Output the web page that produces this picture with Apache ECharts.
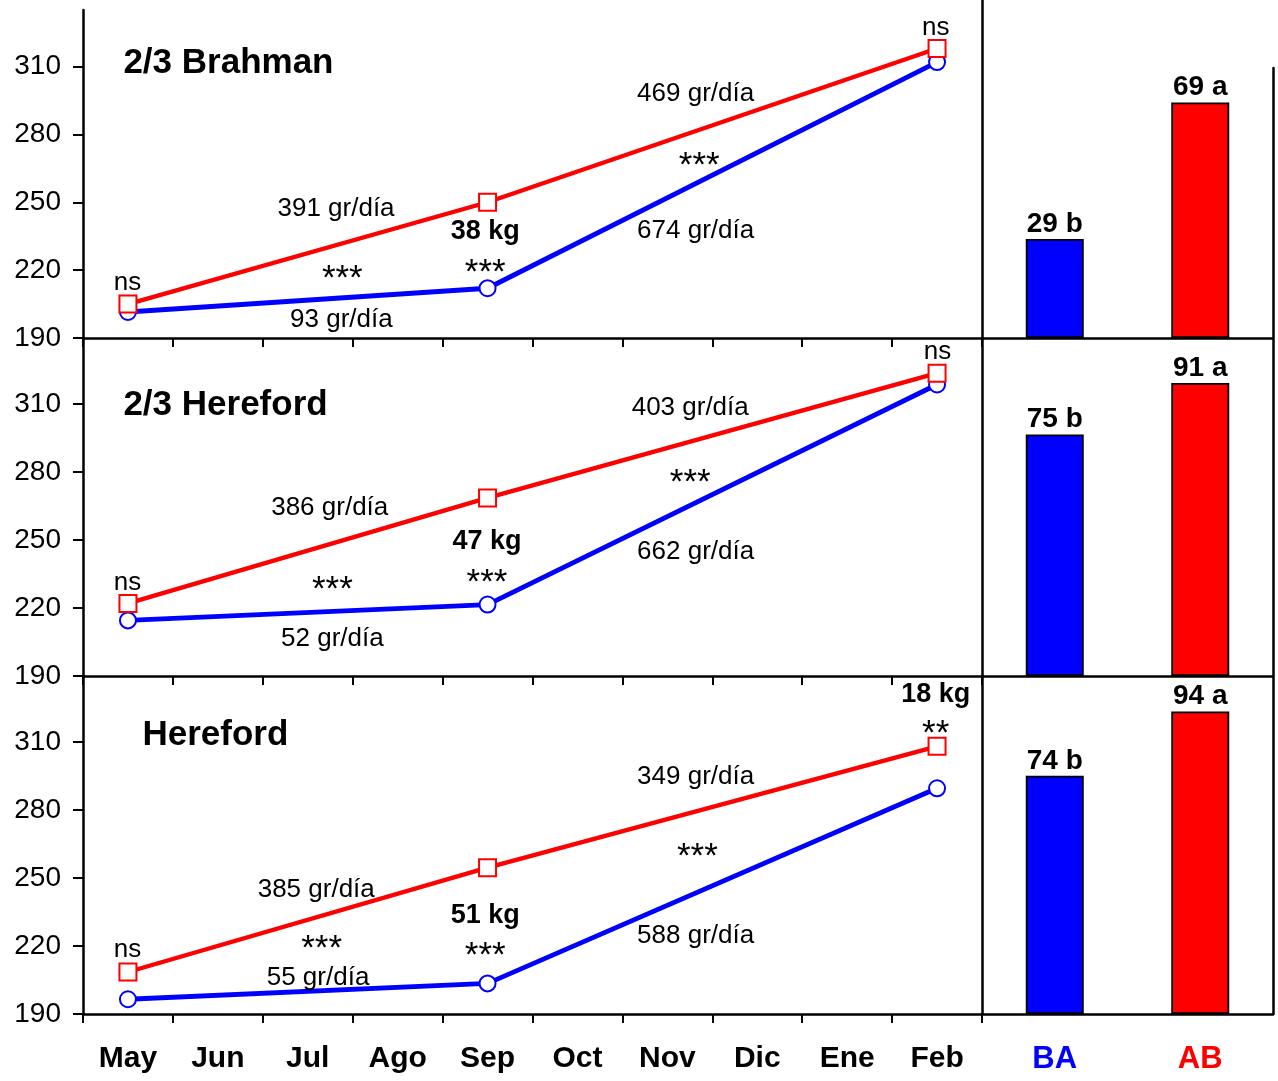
<!DOCTYPE html>
<html>
<head>
<meta charset="utf-8">
<script src="https://cdn.jsdelivr.net/npm/echarts@6/dist/echarts.min.js"></script>
<style>
  html, body { margin: 0; padding: 0; background: #ffffff; }
  #chart { width: 1278px; height: 1081px; }
</style>
</head>
<body>
<div id="chart"></div>
<script>
// Months of the trial (x axis) and the months when animals were weighed
const months = ['May', 'Jun', 'Jul', 'Ago', 'Sep', 'Oct', 'Nov', 'Dic', 'Ene', 'Feb'];
const weighMonths = ['May', 'Sep', 'Feb'];

// Panel titles (genotypes)
const panelTitles = ['2/3 Brahman', '2/3 Hereford', 'Hereford'];

// Live weight (kg) at each weighing, group BA (blue) and AB (red)
const pesoBA_brahman   = [201.5, 212.0, 312.0];
const pesoAB_brahman   = [205.0, 250.0, 318.0];
const pesoBA_hereford23 = [214.5, 221.5, 318.5];
const pesoAB_hereford23 = [222.0, 268.5, 323.5];
const pesoBA_hereford  = [196.5, 203.5, 289.5];
const pesoAB_hereford  = [208.5, 254.5, 308.0];

// Total gain (kg) by group and significance letters
const groups = ['BA', 'AB'];
const gananciaBrahman    = [29, 69];
const gananciaHereford23 = [75, 91];
const gananciaHereford   = [74, 94];
const letras = ['b', 'a'];

// Weight axis tick labels
const yTicks = [190, 220, 250, 280, 310];

// Text notes: [text, month position (0 = May), weight, kind]
const notasBrahman = [
  ['2/3 Brahman', -0.045, 311, 'title'],
  ['ns', 0, 214, 'n'],
  ['391 gr/día', 2.32, 246.7, 'n'],
  ['***', 2.39, 215.5, 's'],
  ['93 gr/día', 2.38, 198, 'n'],
  ['38 kg', 3.98, 237, 'b'],
  ['***', 3.98, 218.5, 's'],
  ['469 gr/día', 6.32, 297.6, 'n'],
  ['***', 6.36, 265.5, 's'],
  ['674 gr/día', 6.32, 237, 'n'],
  ['ns', 8.99, 327, 'n']
];
const notasHereford23 = [
  ['2/3 Hereford', -0.045, 309.3, 'title'],
  ['ns', 0, 231, 'n'],
  ['386 gr/día', 2.25, 263.7, 'n'],
  ['***', 2.28, 227.5, 's'],
  ['52 gr/día', 2.28, 206.3, 'n'],
  ['47 kg', 4.0, 249.2, 'b'],
  ['***', 4.0, 230.5, 's'],
  ['403 gr/día', 6.26, 307.8, 'n'],
  ['***', 6.26, 274.5, 's'],
  ['662 gr/día', 6.32, 244.3, 'n'],
  ['ns', 9.01, 332.5, 'n']
];
const notasHereford = [
  ['Hereford', 0.167, 312.6, 'title'],
  ['ns', 0, 218, 'n'],
  ['385 gr/día', 2.1, 244.7, 'n'],
  ['***', 2.16, 218.5, 's'],
  ['55 gr/día', 2.12, 205.9, 'n'],
  ['51 kg', 3.98, 233.3, 'b'],
  ['***', 3.98, 215, 's'],
  ['349 gr/día', 6.32, 294.5, 'n'],
  ['***', 6.34, 259, 's'],
  ['588 gr/día', 6.32, 224.4, 'n'],
  ['18 kg', 8.99, 330.7, 'b'],
  ['**', 8.99, 313, 's']
];

const panels = [
  { title: panelTitles[0], ba: pesoBA_brahman,    ab: pesoAB_brahman,    gain: gananciaBrahman,    notes: notasBrahman },
  { title: panelTitles[1], ba: pesoBA_hereford23, ab: pesoAB_hereford23, gain: gananciaHereford23, notes: notasHereford23 },
  { title: panelTitles[2], ba: pesoBA_hereford,   ab: pesoAB_hereford,   gain: gananciaHereford,   notes: notasHereford }
];

// ---- layout ----
const FONT = "'Liberation Sans', Arial, Helvetica, sans-serif";
const BLUE = '#0000ff';
const RED = '#ff0000';
const INK = '#000000';
const AXIS_W = 2.5;
const lineLayout = [
  { top: 10,  height: 328, yMax: 335 },
  { top: 338, height: 338, yMax: 339 },
  { top: 676, height: 338, yMax: 339 }
];
const barLayout = [
  { top: 0,   height: 338, yMax: 99 },
  { top: 338, height: 338, yMax: 105 },
  { top: 676, height: 338, yMax: 105 }
];
const PLOT_LEFT = 83, PLOT_W = 899, BAR_LEFT = 982, BAR_W = 291;

// text styles of the notes
const noteStyles = {
  title: { fontSize: 35, fontWeight: 'bold', align: 'left' },
  n: { fontSize: 26, fontWeight: 'normal', align: 'center' },
  b: { fontSize: 27, fontWeight: 'bold', align: 'center' },
  s: { fontSize: 35, fontWeight: 'normal', align: 'center' }
};

// place the weighings onto the monthly category axis
function toMonthly(values) {
  const out = months.map(() => null);
  weighMonths.forEach((m, i) => { out[months.indexOf(m)] = values[i]; });
  return out;
}

const grid = [], xAxis = [], yAxis = [], series = [];

panels.forEach((p, i) => {
  const L = lineLayout[i];
  grid.push({ left: PLOT_LEFT, top: L.top, width: PLOT_W, height: L.height });
});
panels.forEach((p, i) => {
  const B = barLayout[i];
  grid.push({ left: BAR_LEFT, top: B.top, width: BAR_W, height: B.height });
});
// right frame line of the bar column
grid.push({ left: 1273, top: 68, width: 1, height: 946 });

// line panels: month axes (xAxis 0..2, yAxis 0..2)
panels.forEach((p, i) => {
  xAxis.push({
    type: 'category', gridIndex: i, data: months, boundaryGap: true,
    axisLine: { show: true, lineStyle: { color: INK, width: AXIS_W } },
    axisTick: { show: true, interval: 0, length: 9, lineStyle: { color: INK, width: 2 } },
    axisLabel: {
      show: i === 2, interval: 0, margin: 30, color: INK,
      fontFamily: FONT, fontSize: 30, fontWeight: 'bold'
    },
    splitLine: { show: false }
  });
  yAxis.push({
    type: 'value', gridIndex: i, min: 190, max: lineLayout[i].yMax,
    axisLine: { show: true, onZero: false, lineStyle: { color: INK, width: AXIS_W } },
    axisTick: { show: true, customValues: yTicks, length: 10, lineStyle: { color: INK, width: 2 } },
    axisLabel: { show: true, customValues: yTicks, margin: 22, color: INK, fontFamily: FONT, fontSize: 28 },
    splitLine: { show: false }
  });
});
// bar panels (xAxis 3..5, yAxis 3..5)
panels.forEach((p, i) => {
  xAxis.push({
    type: 'category', gridIndex: 3 + i,
    data: [
      { value: groups[0], textStyle: { color: BLUE } },
      { value: groups[1], textStyle: { color: RED } }
    ],
    axisLine: { show: true, lineStyle: { color: INK, width: AXIS_W } },
    axisTick: { show: false },
    axisLabel: {
      show: i === 2, interval: 0, margin: 30,
      fontFamily: FONT, fontSize: 31, fontWeight: 'bold'
    },
    splitLine: { show: false }
  });
  yAxis.push({
    type: 'value', gridIndex: 3 + i, min: 0, max: barLayout[i].yMax, position: 'left',
    axisLine: { show: true, onZero: false, lineStyle: { color: INK, width: AXIS_W } },
    axisTick: { show: false }, axisLabel: { show: false }, splitLine: { show: false }
  });
});
// frame axes (xAxis 6, yAxis 6)
xAxis.push({ type: 'value', gridIndex: 6, show: false });
yAxis.push({
  type: 'value', gridIndex: 6, position: 'left',
  axisLine: { show: true, onZero: false, lineStyle: { color: INK, width: AXIS_W } },
  axisTick: { show: false }, axisLabel: { show: false }, splitLine: { show: false }
});
// overlay position axes for the text notes (xAxis 7..9)
const NOTE_AXIS0 = xAxis.length;
panels.forEach((p, i) => {
  xAxis.push({ type: 'value', gridIndex: i, min: -0.5, max: months.length - 0.5, show: false });
});

panels.forEach((p, i) => {
  // BA (blue) drawn first so AB markers sit on top
  series.push({
    type: 'line', xAxisIndex: i, yAxisIndex: i, data: toMonthly(p.ba),
    connectNulls: true, showSymbol: true, showAllSymbol: true,
    symbol: 'emptyCircle', symbolSize: 16,
    itemStyle: { color: BLUE, borderWidth: 2.4 },
    lineStyle: { color: BLUE, width: 4.8 }, z: 3, silent: true
  });
  series.push({
    type: 'line', xAxisIndex: i, yAxisIndex: i, data: toMonthly(p.ab),
    connectNulls: true, showSymbol: true, showAllSymbol: true,
    symbol: 'emptyRect', symbolSize: 17,
    itemStyle: { color: RED, borderWidth: 2.4 },
    lineStyle: { color: RED, width: 4.3 }, z: 4, silent: true
  });
  series.push({
    type: 'bar', xAxisIndex: 3 + i, yAxisIndex: 3 + i, barWidth: 58,
    data: p.gain.map((v, k) => ({ value: v, itemStyle: { color: k === 0 ? BLUE : RED } })),
    itemStyle: { borderColor: INK, borderWidth: 1.8 },
    label: {
      show: true, position: 'top', distance: 1, color: INK,
      fontFamily: FONT, fontSize: 28, fontWeight: 'bold',
      formatter: (d) => d.value + ' ' + letras[d.dataIndex]
    },
    silent: true
  });
  // text notes anchored at weight/month coordinates
  series.push({
    type: 'scatter', xAxisIndex: NOTE_AXIS0 + i, yAxisIndex: i,
    symbol: 'rect', symbolSize: 1,
    itemStyle: { color: '#ffffff', opacity: 1 }, silent: true, z: 10,
    data: p.notes.map(([t, x, y, kind]) => ({
      value: [x, y], t: t,
      label: Object.assign({ color: INK }, noteStyles[kind])
    })),
    label: {
      show: true, position: [0, 0], color: INK, fontFamily: FONT,
      textBorderWidth: 0, opacity: 1,
      verticalAlign: 'middle', formatter: (d) => d.data.t
    }
  });
});

const chart = echarts.init(document.getElementById('chart'), null, { renderer: 'canvas' });
chart.setOption({
  animation: false,
  backgroundColor: '#ffffff',
  textStyle: { fontFamily: FONT, color: INK },
  grid, xAxis, yAxis, series
});
</script>
</body>
</html>
